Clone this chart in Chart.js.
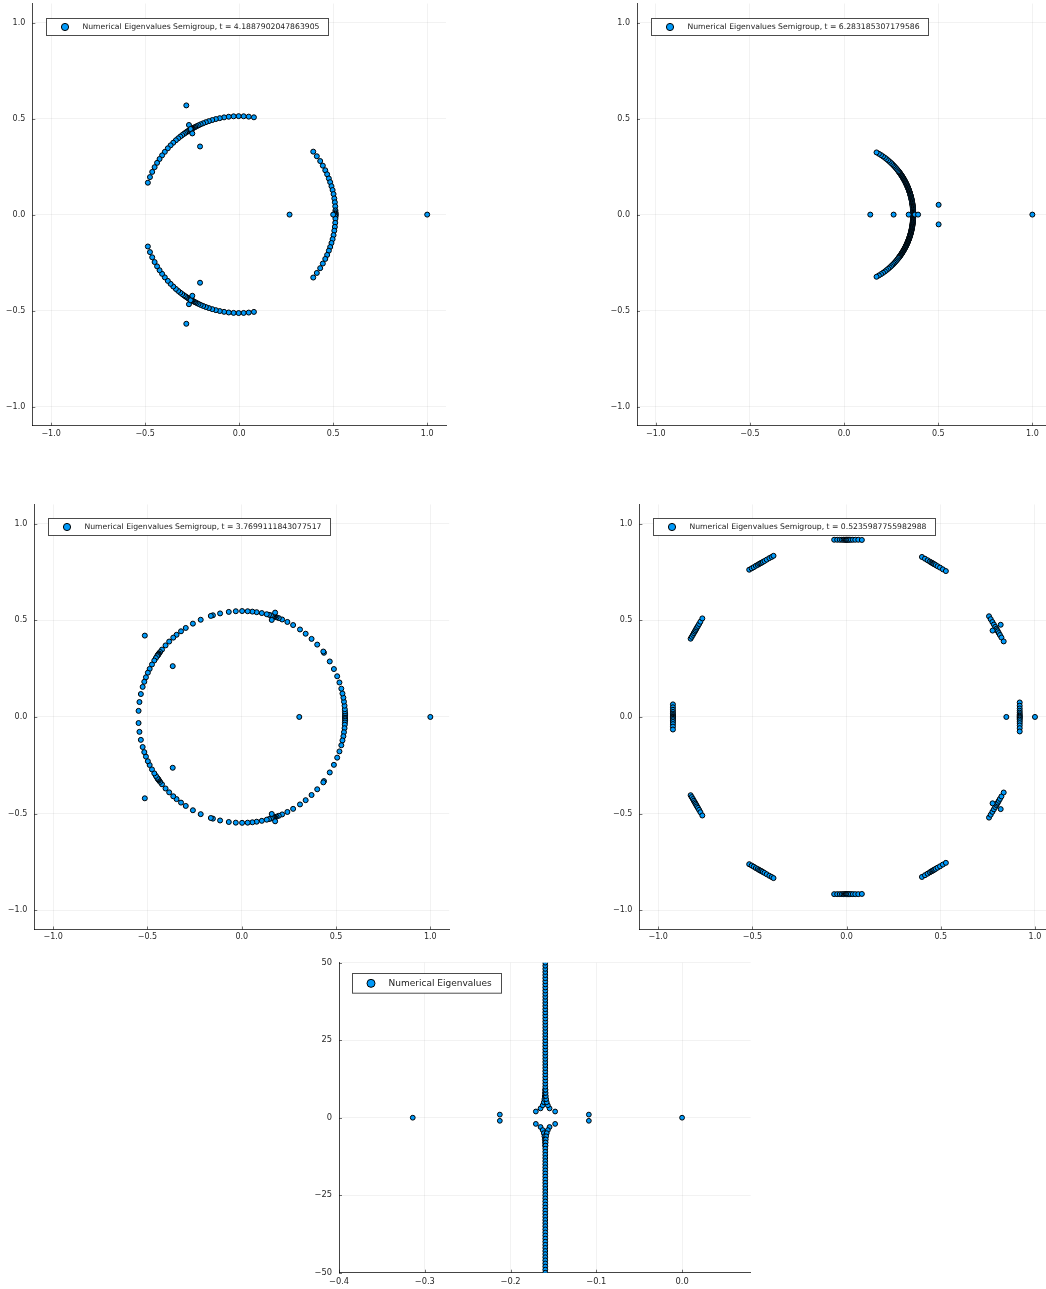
<!DOCTYPE html>
<html>
<head>
<meta charset="utf-8">
<script src="https://cdn.jsdelivr.net/npm/chart.js@4.4.1/dist/chart.umd.min.js"></script>
<style>
  html, body { margin: 0; padding: 0; background: #fff; width: 1046px; height: 1289px; overflow: hidden; position: relative; }
  canvas { position: absolute; }
</style>
</head>
<body>
<script>
// ---------- tick values and labels ----------
const unitTicks = [-1, -0.5, 0, 0.5, 1];
const unitTickLabels = ['\u22121.0', '\u22120.5', '0.0', '0.5', '1.0'];
const genXTicks = [-0.4, -0.3, -0.2, -0.1, 0];
const genXTickLabels = ['\u22120.4', '\u22120.3', '\u22120.2', '\u22120.1', '0.0'];
const genYTicks = [-50, -25, 0, 25, 50];
const genYTickLabels = ['\u221250', '\u221225', '0', '25', '50'];

// semigroup times shown in the legends
const tLabels = ['4.1887902047863905', '6.283185307179586', '3.7699111843077517', '0.5235987755982988'];

// ---------- eigenvalues of the semigroup, t = 4.18879 ([re, im]) ----------
const t4189UpperArc = [[0.0785,0.507],[0.051,0.5105],[0.024,0.5124],[-0.0027,0.513],[-0.0295,0.5121],[-0.0554,0.510],[-0.0802,0.5067],[-0.1032,0.5025],[-0.1241,0.4978],[-0.1431,0.4926],[-0.1611,0.487],[-0.1771,0.4815],[-0.1914,0.476],[-0.2045,0.4705],[-0.216,0.4653],[-0.2257,0.4607],[-0.2337,0.4567],[-0.24,0.4534],[-0.2456,0.4504],[-0.2495,0.4483],[-0.2526,0.4465],[-0.255,0.4452],[-0.2565,0.4443],[-0.258,0.4434],[-0.2596,0.4425],[-0.2619,0.4411],[-0.2642,0.4397],[-0.2673,0.4379],[-0.2711,0.4355],[-0.2756,0.4327],[-0.2809,0.4293],[-0.2869,0.4253],[-0.2943,0.4202],[-0.303,0.414],[-0.313,0.4065],[-0.3242,0.3975],[-0.3366,0.3872],[-0.3505,0.3746],[-0.3646,0.3608],[-0.3794,0.3453],[-0.3953,0.327],[-0.4097,0.3087],[-0.4233,0.2898],[-0.4365,0.2696],[-0.4495,0.2472],[-0.4623,0.2225],[-0.4743,0.1955],[-0.4854,0.1662]];
const t4189LowerArc = [[0.0785,-0.507],[0.051,-0.5105],[0.024,-0.5124],[-0.0027,-0.513],[-0.0295,-0.5121],[-0.0554,-0.510],[-0.0802,-0.5067],[-0.1032,-0.5025],[-0.1241,-0.4978],[-0.1431,-0.4926],[-0.1611,-0.487],[-0.1771,-0.4815],[-0.1914,-0.476],[-0.2045,-0.4705],[-0.216,-0.4653],[-0.2257,-0.4607],[-0.2337,-0.4567],[-0.24,-0.4534],[-0.2456,-0.4504],[-0.2495,-0.4483],[-0.2526,-0.4465],[-0.255,-0.4452],[-0.2565,-0.4443],[-0.258,-0.4434],[-0.2596,-0.4425],[-0.2619,-0.4411],[-0.2642,-0.4397],[-0.2673,-0.4379],[-0.2711,-0.4355],[-0.2756,-0.4327],[-0.2809,-0.4293],[-0.2869,-0.4253],[-0.2943,-0.4202],[-0.303,-0.414],[-0.313,-0.4065],[-0.3242,-0.3975],[-0.3366,-0.3872],[-0.3505,-0.3746],[-0.3646,-0.3608],[-0.3794,-0.3453],[-0.3953,-0.327],[-0.4097,-0.3087],[-0.4233,-0.2898],[-0.4365,-0.2696],[-0.4495,-0.2472],[-0.4623,-0.2225],[-0.4743,-0.1955],[-0.4854,-0.1662]];
const t4189RightArc = [[0.394,0.328],[0.413,0.304],[0.431,0.279],[0.445,0.255],[0.458,0.231],[0.468,0.21],[0.477,0.188],[0.484,0.169],[0.491,0.148],[0.497,0.128],[0.502,0.107],[0.506,0.084],[0.509,0.064],[0.511,0.043],[0.512,0.022],[0.5125,0.012],[0.513,0.005],[0.513,0],[0.513,-0.005],[0.5125,-0.012],[0.512,-0.022],[0.511,-0.043],[0.509,-0.064],[0.506,-0.084],[0.502,-0.107],[0.497,-0.128],[0.491,-0.148],[0.484,-0.169],[0.477,-0.188],[0.468,-0.21],[0.458,-0.231],[0.445,-0.255],[0.431,-0.279],[0.413,-0.304],[0.394,-0.328]];
const t4189Isolated = [[0.50,0],[0.268,0],[1.0,0],[-0.281,0.569],[-0.267,0.467],[-0.258,0.446],[-0.249,0.423],[-0.208,0.355],[-0.281,-0.569],[-0.267,-0.467],[-0.258,-0.446],[-0.249,-0.423],[-0.208,-0.355]];

// ---------- t = 6.28319 (arc listed from the real axis outwards) ----------
const t6283UpperArc = [[0.367,0],[0.367,0.0026],[0.367,0.0051],[0.3669,0.008],[0.3668,0.0109],[0.3667,0.0138],[0.3666,0.0166],[0.3665,0.0195],[0.3663,0.0224],[0.3661,0.0253],[0.3659,0.0282],[0.3657,0.0311],[0.3654,0.0339],[0.3652,0.0368],[0.3649,0.0396],[0.3646,0.0425],[0.3642,0.0454],[0.3638,0.0483],[0.3634,0.0511],[0.363,0.054],[0.3626,0.0568],[0.3621,0.0597],[0.3616,0.0625],[0.3611,0.0653],[0.3606,0.0681],[0.3601,0.071],[0.3595,0.0738],[0.3589,0.0766],[0.3583,0.0794],[0.3577,0.0823],[0.357,0.0851],[0.3563,0.0879],[0.3556,0.0906],[0.3549,0.0934],[0.3542,0.0962],[0.3534,0.099],[0.3526,0.1018],[0.3518,0.1046],[0.351,0.1073],[0.3501,0.1101],[0.3492,0.1128],[0.3483,0.1156],[0.3474,0.1183],[0.3465,0.121],[0.3455,0.1237],[0.3445,0.1264],[0.3435,0.1291],[0.3425,0.1318],[0.3415,0.1345],[0.3404,0.1372],[0.3393,0.1399],[0.3382,0.1426],[0.3371,0.1452],[0.3359,0.1478],[0.3347,0.1504],[0.3335,0.1531],[0.3323,0.1557],[0.3311,0.1583],[0.3299,0.1609],[0.3286,0.1635],[0.3273,0.166],[0.326,0.1686],[0.3246,0.1712],[0.3231,0.174],[0.3216,0.1768],[0.3201,0.1796],[0.3185,0.1824],[0.3169,0.1852],[0.3152,0.1879],[0.3136,0.1907],[0.3119,0.1934],[0.3102,0.1961],[0.3085,0.1988],[0.3068,0.2015],[0.305,0.2042],[0.303,0.2071],[0.301,0.21],[0.299,0.2129],[0.2969,0.2157],[0.2948,0.2186],[0.2927,0.2214],[0.2906,0.2242],[0.2884,0.227],[0.2836,0.2329],[0.2787,0.2388],[0.2736,0.2446],[0.268,0.2508],[0.2622,0.2568],[0.2559,0.2631],[0.2494,0.2693],[0.2422,0.2757],[0.2344,0.2824],[0.2259,0.2892],[0.2168,0.2962],[0.2068,0.3032],[0.1961,0.3102],[0.1846,0.3172],[0.1723,0.324]];
const t6283LowerArc = [[0.367,-0.0026],[0.367,-0.0051],[0.3669,-0.008],[0.3668,-0.0109],[0.3667,-0.0138],[0.3666,-0.0166],[0.3665,-0.0195],[0.3663,-0.0224],[0.3661,-0.0253],[0.3659,-0.0282],[0.3657,-0.0311],[0.3654,-0.0339],[0.3652,-0.0368],[0.3649,-0.0396],[0.3646,-0.0425],[0.3642,-0.0454],[0.3638,-0.0483],[0.3634,-0.0511],[0.363,-0.054],[0.3626,-0.0568],[0.3621,-0.0597],[0.3616,-0.0625],[0.3611,-0.0653],[0.3606,-0.0681],[0.3601,-0.071],[0.3595,-0.0738],[0.3589,-0.0766],[0.3583,-0.0794],[0.3577,-0.0823],[0.357,-0.0851],[0.3563,-0.0879],[0.3556,-0.0906],[0.3549,-0.0934],[0.3542,-0.0962],[0.3534,-0.099],[0.3526,-0.1018],[0.3518,-0.1046],[0.351,-0.1073],[0.3501,-0.1101],[0.3492,-0.1128],[0.3483,-0.1156],[0.3474,-0.1183],[0.3465,-0.121],[0.3455,-0.1237],[0.3445,-0.1264],[0.3435,-0.1291],[0.3425,-0.1318],[0.3415,-0.1345],[0.3404,-0.1372],[0.3393,-0.1399],[0.3382,-0.1426],[0.3371,-0.1452],[0.3359,-0.1478],[0.3347,-0.1504],[0.3335,-0.1531],[0.3323,-0.1557],[0.3311,-0.1583],[0.3299,-0.1609],[0.3286,-0.1635],[0.3273,-0.166],[0.326,-0.1686],[0.3246,-0.1712],[0.3231,-0.174],[0.3216,-0.1768],[0.3201,-0.1796],[0.3185,-0.1824],[0.3169,-0.1852],[0.3152,-0.1879],[0.3136,-0.1907],[0.3119,-0.1934],[0.3102,-0.1961],[0.3085,-0.1988],[0.3068,-0.2015],[0.305,-0.2042],[0.303,-0.2071],[0.301,-0.21],[0.299,-0.2129],[0.2969,-0.2157],[0.2948,-0.2186],[0.2927,-0.2214],[0.2906,-0.2242],[0.2884,-0.227],[0.2836,-0.2329],[0.2787,-0.2388],[0.2736,-0.2446],[0.268,-0.2508],[0.2622,-0.2568],[0.2559,-0.2631],[0.2494,-0.2693],[0.2422,-0.2757],[0.2344,-0.2824],[0.2259,-0.2892],[0.2168,-0.2962],[0.2068,-0.3032],[0.1961,-0.3102],[0.1846,-0.3172],[0.1723,-0.324]];
const t6283Isolated = [[0.139,0],[0.263,0],[0.343,0],[0.376,0],[0.393,0],[0.502,0.051],[0.502,-0.051],[1.0,0]];

// ---------- t = 3.76991 ----------
const t3770Upper = [[0.548,0],[0.548,0.0057],[0.548,0.0115],[0.548,0.0191],[0.547,0.0287],[0.5465,0.0401],[0.545,0.0582],[0.542,0.0791],[0.539,0.0999],[0.534,0.1214],[0.528,0.1464],[0.518,0.1784],[0.506,0.2106],[0.4887,0.2479],[0.4667,0.2872],[0.4359,0.3321],[0.4325,0.3385],[0.4001,0.3744],[0.3702,0.404],[0.3389,0.4307],[0.3088,0.4527],[0.2724,0.4756],[0.2419,0.4917],[0.2141,0.5044],[0.1964,0.5116],[0.1847,0.5159],[0.1766,0.5187],[0.1721,0.5203],[0.1693,0.5212],[0.1666,0.5221],[0.162,0.5235],[0.1547,0.5257],[0.1446,0.5286],[0.1326,0.5317],[0.1064,0.5376],[0.0791,0.5422],[0.0563,0.5451],[0.0315,0.5471],[0.0019,0.548],[-0.0315,0.5471],[-0.0687,0.5437],[-0.1149,0.5358],[-0.1529,0.5262],[-0.1639,0.5229],[-0.2176,0.503],[-0.259,0.4829],[-0.2968,0.4606],[-0.3221,0.4433],[-0.3456,0.4252],[-0.3631,0.4105],[-0.3848,0.3902],[-0.404,0.3702],[-0.4228,0.3486],[-0.433,0.3359],[-0.4388,0.3283],[-0.4416,0.3244],[-0.4433,0.3221],[-0.4456,0.319],[-0.4489,0.3143],[-0.4554,0.3049],[-0.4637,0.292],[-0.476,0.2715],[-0.4883,0.2488],[-0.4979,0.229],[-0.5081,0.2053],[-0.5169,0.182],[-0.5254,0.1556],[-0.535,0.1186],[-0.5425,0.0772],[-0.5471,0.0315]];
const t3770Lower = [[0.548,-0.0057],[0.548,-0.0115],[0.548,-0.0191],[0.547,-0.0287],[0.5465,-0.0401],[0.545,-0.0582],[0.542,-0.0791],[0.539,-0.0999],[0.534,-0.1214],[0.528,-0.1464],[0.518,-0.1784],[0.506,-0.2106],[0.4887,-0.2479],[0.4667,-0.2872],[0.4359,-0.3321],[0.4325,-0.3385],[0.4001,-0.3744],[0.3702,-0.404],[0.3389,-0.4307],[0.3088,-0.4527],[0.2724,-0.4756],[0.2419,-0.4917],[0.2141,-0.5044],[0.1964,-0.5116],[0.1847,-0.5159],[0.1766,-0.5187],[0.1721,-0.5203],[0.1693,-0.5212],[0.1666,-0.5221],[0.162,-0.5235],[0.1547,-0.5257],[0.1446,-0.5286],[0.1326,-0.5317],[0.1064,-0.5376],[0.0791,-0.5422],[0.0563,-0.5451],[0.0315,-0.5471],[0.0019,-0.548],[-0.0315,-0.5471],[-0.0687,-0.5437],[-0.1149,-0.5358],[-0.1529,-0.5262],[-0.1639,-0.5229],[-0.2176,-0.503],[-0.259,-0.4829],[-0.2968,-0.4606],[-0.3221,-0.4433],[-0.3456,-0.4252],[-0.3631,-0.4105],[-0.3848,-0.3902],[-0.404,-0.3702],[-0.4228,-0.3486],[-0.433,-0.3359],[-0.4388,-0.3283],[-0.4416,-0.3244],[-0.4433,-0.3221],[-0.4456,-0.319],[-0.4489,-0.3143],[-0.4554,-0.3049],[-0.4637,-0.292],[-0.476,-0.2715],[-0.4883,-0.2488],[-0.4979,-0.229],[-0.5081,-0.2053],[-0.5169,-0.182],[-0.5254,-0.1556],[-0.535,-0.1186],[-0.5425,-0.0772],[-0.5471,-0.0315]];
const t3770Isolated = [[0.177,0.540],[0.159,0.502],[0.177,-0.540],[0.159,-0.502],[-0.514,0.421],[-0.514,-0.421],[-0.366,0.263],[-0.366,-0.263],[0.305,0],[1.0,0]];

// ---------- t = 0.523599 ----------
const t0524Upper = [
  [-0.066,0.917],[-0.05,0.917],[-0.036,0.917],[-0.025,0.917],[-0.016,0.917],[-0.009,0.917],[-0.004,0.917],[0,0.917],[0.004,0.917],[0.009,0.917],[0.015,0.917],[0.023,0.917],[0.033,0.917],[0.046,0.917],[0.062,0.917],[0.081,0.916],
  [0.400,0.828],[0.416,0.819],[0.430,0.811],[0.442,0.804],[0.450,0.799],[0.456,0.796],[0.461,0.793],[0.466,0.790],[0.473,0.786],[0.483,0.780],[0.496,0.773],[0.511,0.764],[0.527,0.755],
  [-0.517,0.762],[-0.504,0.769],[-0.493,0.775],[-0.482,0.782],[-0.472,0.787],[-0.464,0.792],[-0.458,0.795],[-0.452,0.798],[-0.445,0.802],[-0.436,0.807],[-0.424,0.814],[-0.41,0.822],[-0.398,0.828],[-0.388,0.834],
  [-0.828,0.405],[-0.822,0.415],[-0.816,0.425],[-0.811,0.434],[-0.806,0.442],[-0.802,0.449],[-0.798,0.456],[-0.794,0.463],[-0.789,0.471],[-0.783,0.481],[-0.776,0.493],[-0.766,0.51],
  [0.756,0.521],[0.765,0.506],[0.774,0.491],[0.782,0.478],[0.789,0.466],[0.795,0.456],[0.799,0.449],[0.803,0.443],[0.808,0.434],[0.814,0.424],[0.822,0.411],[0.834,0.391],[0.775,0.447],[0.818,0.477]
];
const t0524Lower = [
  [-0.066,-0.917],[-0.05,-0.917],[-0.036,-0.917],[-0.025,-0.917],[-0.016,-0.917],[-0.009,-0.917],[-0.004,-0.917],[0,-0.917],[0.004,-0.917],[0.009,-0.917],[0.015,-0.917],[0.023,-0.917],[0.033,-0.917],[0.046,-0.917],[0.062,-0.917],[0.081,-0.916],
  [0.400,-0.828],[0.416,-0.819],[0.430,-0.811],[0.442,-0.804],[0.450,-0.799],[0.456,-0.796],[0.461,-0.793],[0.466,-0.790],[0.473,-0.786],[0.483,-0.780],[0.496,-0.773],[0.511,-0.764],[0.527,-0.755],
  [-0.517,-0.762],[-0.504,-0.769],[-0.493,-0.775],[-0.482,-0.782],[-0.472,-0.787],[-0.464,-0.792],[-0.458,-0.795],[-0.452,-0.798],[-0.445,-0.802],[-0.436,-0.807],[-0.424,-0.814],[-0.41,-0.822],[-0.398,-0.828],[-0.388,-0.834],
  [-0.828,-0.405],[-0.822,-0.415],[-0.816,-0.425],[-0.811,-0.434],[-0.806,-0.442],[-0.802,-0.449],[-0.798,-0.456],[-0.794,-0.463],[-0.789,-0.471],[-0.783,-0.481],[-0.776,-0.493],[-0.766,-0.51],
  [0.756,-0.521],[0.765,-0.506],[0.774,-0.491],[0.782,-0.478],[0.789,-0.466],[0.795,-0.456],[0.799,-0.449],[0.803,-0.443],[0.808,-0.434],[0.814,-0.424],[0.822,-0.411],[0.834,-0.391],[0.775,-0.447],[0.818,-0.477]
];
const t0524RealAxis = [
  [0.919,0.075],[0.919,0.058],[0.919,0.044],[0.919,0.032],[0.919,0.022],[0.919,0.014],[0.919,0.007],[0.919,0.002],[0.919,-0.002],[0.919,-0.007],[0.919,-0.014],[0.919,-0.022],[0.919,-0.032],[0.919,-0.044],[0.919,-0.058],[0.919,-0.075],
  [-0.922,0.065],[-0.922,0.05],[-0.922,0.037],[-0.922,0.026],[-0.922,0.017],[-0.922,0.01],[-0.922,0.004],[-0.922,0],[-0.922,-0.004],[-0.922,-0.01],[-0.922,-0.017],[-0.922,-0.026],[-0.922,-0.037],[-0.922,-0.05],[-0.922,-0.065],
  [0.848,0],[1.0,0]
];

// ---------- eigenvalues of the generator ----------
const genIsolated = [[-0.314,0],[-0.2125,1],[-0.2125,-1],[-0.1087,1],[-0.1087,-1],[0,0]];
const genUpperBranch = [[-0.1705,2],[-0.148,2],[-0.165,3],[-0.1545,3],[-0.1625,4],[-0.1565,4],[-0.1612,5],[-0.1578,5],[-0.1605,6],[-0.1585,6],[-0.1601,7],[-0.1589,7],[-0.1599,8],[-0.1591,8],[-0.1598,9],[-0.1592,9],
  [-0.1595,10],[-0.1595,11],[-0.1595,12],[-0.1595,13],[-0.1595,14],[-0.1595,15],[-0.1595,16],[-0.1595,17],[-0.1595,18],[-0.1595,19],[-0.1595,20],[-0.1595,21],[-0.1595,22],[-0.1595,23],[-0.1595,24],[-0.1595,25],[-0.1595,26],[-0.1595,27],[-0.1595,28],[-0.1595,29],[-0.1595,30],
  [-0.1595,31],[-0.1595,32],[-0.1595,33],[-0.1595,34],[-0.1595,35],[-0.1595,36],[-0.1595,37],[-0.1595,38],[-0.1595,39],[-0.1595,40],[-0.1595,41],[-0.1595,42],[-0.1595,43],[-0.1595,44],[-0.1595,45],[-0.1595,46],[-0.1595,47],[-0.1595,48],[-0.1595,49],[-0.1595,50],[-0.1595,51]];
const genLowerBranch = [[-0.1705,-2],[-0.148,-2],[-0.165,-3],[-0.1545,-3],[-0.1625,-4],[-0.1565,-4],[-0.1612,-5],[-0.1578,-5],[-0.1605,-6],[-0.1585,-6],[-0.1601,-7],[-0.1589,-7],[-0.1599,-8],[-0.1591,-8],[-0.1598,-9],[-0.1592,-9],
  [-0.1595,-10],[-0.1595,-11],[-0.1595,-12],[-0.1595,-13],[-0.1595,-14],[-0.1595,-15],[-0.1595,-16],[-0.1595,-17],[-0.1595,-18],[-0.1595,-19],[-0.1595,-20],[-0.1595,-21],[-0.1595,-22],[-0.1595,-23],[-0.1595,-24],[-0.1595,-25],[-0.1595,-26],[-0.1595,-27],[-0.1595,-28],[-0.1595,-29],[-0.1595,-30],
  [-0.1595,-31],[-0.1595,-32],[-0.1595,-33],[-0.1595,-34],[-0.1595,-35],[-0.1595,-36],[-0.1595,-37],[-0.1595,-38],[-0.1595,-39],[-0.1595,-40],[-0.1595,-41],[-0.1595,-42],[-0.1595,-43],[-0.1595,-44],[-0.1595,-45],[-0.1595,-46],[-0.1595,-47],[-0.1595,-48],[-0.1595,-49],[-0.1595,-50],[-0.1595,-51]];

// ---------- drawing ----------
const FONT = '"DejaVu Sans", "Liberation Sans", sans-serif';
const MARKER = '#009AFA';

// Plots-style ticks that point into the plot area
const innerTicks = {
  id: 'innerTicks',
  beforeDatasetsDraw(chart) {
    const { ctx, chartArea, scales } = chart;
    ctx.save();
    ctx.strokeStyle = 'rgba(0,0,0,0.55)';
    ctx.lineWidth = 1;
    ctx.beginPath();
    scales.x.ticks.forEach(t => {
      const px = Math.round(scales.x.getPixelForValue(t.value)) + 0.5;
      ctx.moveTo(px, chartArea.bottom);
      ctx.lineTo(px, chartArea.bottom - 3);
    });
    scales.y.ticks.forEach(t => {
      const py = Math.round(scales.y.getPixelForValue(t.value)) + 0.5;
      ctx.moveTo(chartArea.left, py);
      ctx.lineTo(chartArea.left + 3, py);
    });
    ctx.stroke();
    ctx.restore();
  }
};

// boxed legend inside the top-left corner of the plot area
const legendBox = {
  id: 'legendBox',
  afterDraw(chart, args, opts) {
    const { ctx, chartArea } = chart;
    ctx.save();
    ctx.font = opts.fontSize + 'px ' + FONT;
    const tw = ctx.measureText(opts.text).width;
    const x = Math.round(chartArea.left + opts.dx) + 0.5;
    const y = Math.round(chartArea.top + opts.dy) + 0.5;
    const w = Math.round(36 + tw + opts.padRight);
    const h = opts.h;
    ctx.fillStyle = '#fff';
    ctx.fillRect(x, y, w, h);
    ctx.strokeStyle = 'rgba(0,0,0,0.7)';
    ctx.lineWidth = 1;
    ctx.strokeRect(x, y, w, h);
    ctx.beginPath();
    ctx.arc(x + 18.5, y + h / 2, opts.markerR, 0, Math.PI * 2);
    ctx.fillStyle = MARKER;
    ctx.fill();
    ctx.strokeStyle = '#000';
    ctx.stroke();
    ctx.fillStyle = '#222';
    ctx.textBaseline = 'middle';
    ctx.textAlign = 'left';
    ctx.fillText(opts.text, x + 36, y + h / 2 + 0.5);
    ctx.restore();
  }
};

function axis(min, max, ticks, labels, fit, fitSize, pad, fontSize) {
  return {
    type: 'linear',
    min: min,
    max: max,
    afterBuildTicks: s => { s.ticks = ticks.map(v => ({ value: v })); },
    afterFit: s => {
      s[fit] = fitSize;
      // the plot area is placed exactly; no extra room for end labels
      s.paddingTop = 0; s.paddingBottom = 0; s.paddingLeft = 0; s.paddingRight = 0;
    },
    ticks: {
      callback: (v, i) => labels[i],
      font: { family: FONT, size: fontSize },
      color: '#2a2a2a',
      padding: pad,
      maxRotation: 0,
      autoSkip: false
    },
    grid: { color: 'rgba(0,0,0,0.05)', lineWidth: 1, drawTicks: false },
    border: { display: true, color: 'rgba(0,0,0,0.72)', width: 1 }
  };
}

function panel(cfg) {
  const cv = document.createElement('canvas');
  cv.width = cfg.w; cv.height = cfg.h;
  cv.style.left = cfg.left + 'px'; cv.style.top = cfg.top + 'px';
  cv.style.width = cfg.w + 'px'; cv.style.height = cfg.h + 'px';
  document.body.appendChild(cv);
  const points = cfg.points.map(p => ({ x: p[0], y: p[1] }));
  new Chart(cv, {
    type: 'scatter',
    data: {
      datasets: [{
        label: cfg.legend,
        data: points,
        pointRadius: cfg.r,
        pointHoverRadius: cfg.r,
        pointBackgroundColor: MARKER,
        pointBorderColor: '#000',
        pointBorderWidth: 1,
        backgroundColor: MARKER,
        borderColor: '#000',
        clip: 0
      }]
    },
    options: {
      responsive: false,
      animation: false,
      devicePixelRatio: 1,
      layout: { padding: cfg.pad },
      events: [],
      plugins: {
        legend: { display: false },
        tooltip: { enabled: false },
        legendBox: { text: cfg.legend, fontSize: cfg.legendFont, dx: cfg.legDx, dy: cfg.legDy, h: cfg.legH, padRight: 9.4, markerR: cfg.legR }
      },
      scales: {
        x: axis(cfg.xMin, cfg.xMax, cfg.xTicks, cfg.xLabels, 'height', cfg.xH, cfg.xPad, cfg.tickFont),
        y: axis(cfg.yMin, cfg.yMax, cfg.yTicks, cfg.yLabels, 'width', cfg.yW, 7, cfg.tickFont)
      }
    },
    plugins: [innerTicks, legendBox]
  });
}

const semigroupLegend = t => 'Numerical Eigenvalues Semigroup, t = ' + t;
const unitPanel = {
  xMin: -1.1, xMax: 1.1, yMin: -1.1, yMax: 1.1,
  xTicks: unitTicks, xLabels: unitTickLabels, yTicks: unitTicks, yLabels: unitTickLabels,
  r: 2.5, tickFont: 8, legendFont: 7.7, legH: 17, legR: 3.6, xPad: 3
};

panel(Object.assign({}, unitPanel, {
  left: 0, top: 0, w: 450, h: 445, pad: { left: 0, top: 0, right: 4, bottom: 0 }, yW: 32.3, xH: 19.3,
  points: [].concat(t4189UpperArc, t4189LowerArc, t4189RightArc, t4189Isolated),
  legend: semigroupLegend(tLabels[0]), legDx: 13.4, legDy: 14.7
}));
panel(Object.assign({}, unitPanel, {
  left: 600, top: 0, w: 460, h: 445, pad: { left: 0, top: 0, right: 8.8, bottom: 0 }, yW: 37, xH: 19.3,
  points: [].concat(t6283UpperArc, t6283LowerArc, t6283Isolated),
  legend: semigroupLegend(tLabels[1]), legDx: 13.7, legDy: 14.7
}));
panel(Object.assign({}, unitPanel, {
  left: 0, top: 500, w: 455, h: 450, pad: { left: 0, top: 4.4, right: 5.8, bottom: 0 }, yW: 34.3, xH: 20.5,
  points: [].concat(t3770Upper, t3770Lower, t3770Isolated),
  legend: semigroupLegend(tLabels[2]), legDx: 13.4, legDy: 13.9
}));
panel(Object.assign({}, unitPanel, {
  left: 600, top: 500, w: 460, h: 450, pad: { left: 0, top: 4.4, right: 6.2, bottom: 0 }, yW: 39.4, xH: 20.5,
  points: [].concat(t0524Upper, t0524Lower, t0524RealAxis),
  legend: semigroupLegend(tLabels[3]), legDx: 13.3, legDy: 13.9
}));
panel({
  left: 300, top: 940, w: 460, h: 349, pad: { left: 0, top: 22.7, right: 9.3, bottom: 0 }, yW: 39, xH: 16.3,
  xMin: -0.4, xMax: 0.08, yMin: -50, yMax: 50,
  xTicks: genXTicks, xLabels: genXTickLabels, yTicks: genYTicks, yLabels: genYTickLabels,
  r: 2.4, tickFont: 8.3, legendFont: 9, legH: 19.7, legR: 4, xPad: 4,
  points: [].concat(genUpperBranch, genLowerBranch, genIsolated),
  legend: 'Numerical Eigenvalues', legDx: 13.3, legDy: 10.6
});
</script>
</body>
</html>
